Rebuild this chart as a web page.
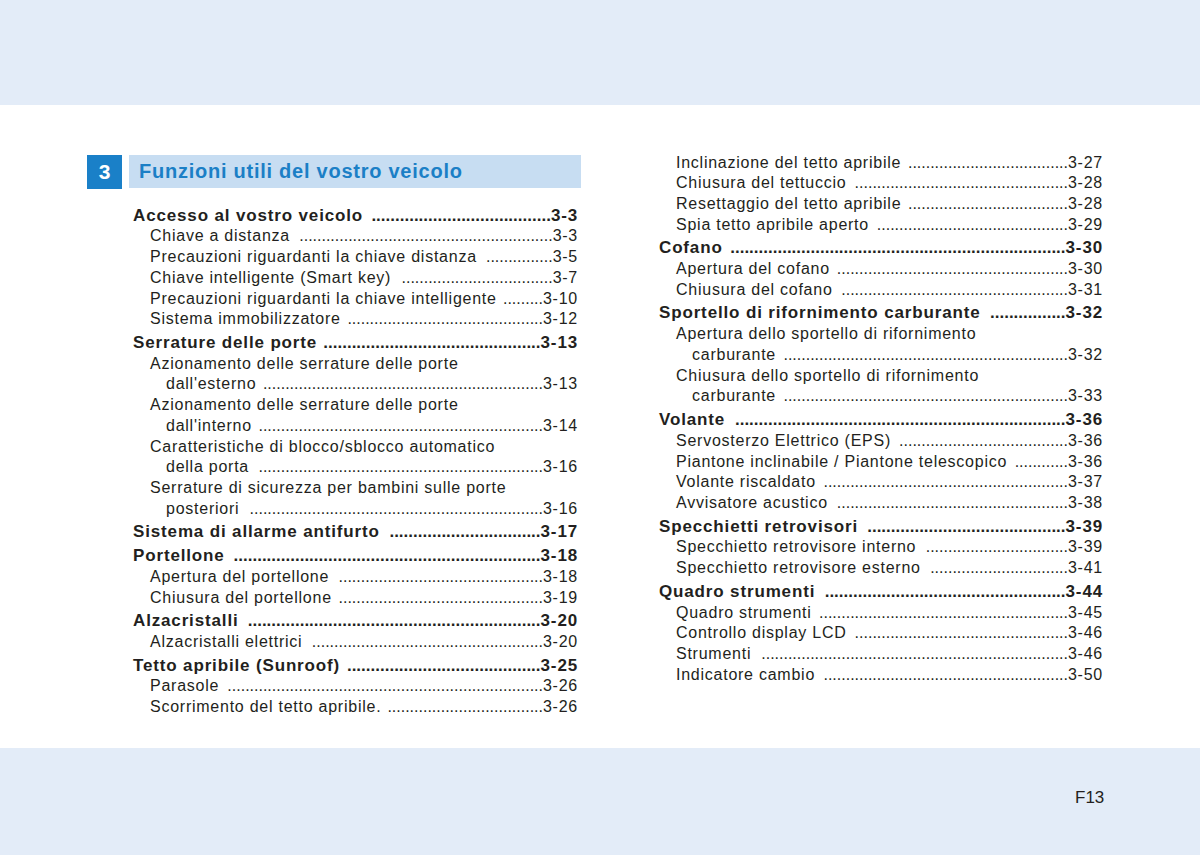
<!DOCTYPE html>
<html>
<head>
<meta charset="utf-8">
<script src="https://cdn.jsdelivr.net/npm/chart.js@4.4.1/dist/chart.umd.min.js"></script>
<style>
  html, body { margin: 0; padding: 0; }
  body {
    width: 1200px; height: 855px; position: relative; overflow: hidden;
    background: #ffffff;
    font-family: "Liberation Sans", Arial, Helvetica, sans-serif;
    color: #231f20;
  }
  .band { position: absolute; left: 0; width: 1200px; background: #e3ecf8; }
  .band.top { top: 0; height: 105px; }
  .band.bottom { top: 748px; height: 107px; }
  .chapNum {
    position: absolute; left: 87px; top: 155px; width: 35px; height: 34px;
    background: #1a80c8; color: #fff; font-weight: bold; font-size: 21px;
    line-height: 34px; text-align: center;
  }
  .chapTitle {
    position: absolute; left: 129px; top: 155px; width: 452px; height: 33px;
    background: #c7ddf2; color: #1b7fc6; font-weight: bold; font-size: 20px;
    letter-spacing: 0.75px; line-height: 33px; box-sizing: border-box; padding-left: 10px;
  }
  .col { position: absolute; }
  .row {
    position: absolute; left: 0; right: 0; display: flex;
    height: 21px; line-height: 21px; font-size: 16px; letter-spacing: 0.75px; white-space: nowrap;
  }
  .row.l0 { font-weight: bold; font-size: 17px; letter-spacing: 0.85px; }
  .row.l1 { padding-left: 17px; }
  .row.l2 { padding-left: 33px; }
  .row .lead { flex: 1; text-align: right; letter-spacing: 0; }
  .pageNo { position: absolute; left: 1075px; top: 788px; font-size: 17px; color: #231f20; }
</style>
</head>
<body>
<div class="band top"></div>
<div class="band bottom"></div>
<div class="chapNum" id="chapNum"></div>
<div class="chapTitle" id="chapTitle"></div>
<div class="col" id="leftCol" style="left:133px; top:215px; width:445px;"></div>
<div class="col" id="rightCol" style="left:659px; top:162px; width:444px;"></div>
<div class="pageNo" id="pageNo"></div>

<script>
// ===== CONTENUTO INDICE =====
const chapterNumber = '3';
const chapterTitle = 'Funzioni utili del vostro veicolo';
const pageLabel = 'F13';

// [livello, testo, pagina]  livello 0 = titolo, 1 = voce, 2 = continuazione
const leftEntries = [
    [0, 'Accesso al vostro veicolo', '3-3'],
    [1, 'Chiave a distanza', '3-3'],
    [1, 'Precauzioni riguardanti la chiave distanza', '3-5'],
    [1, 'Chiave intelligente (Smart key)', '3-7'],
    [1, 'Precauzioni riguardanti la chiave intelligente', '3-10'],
    [1, 'Sistema immobilizzatore', '3-12'],
    [0, 'Serrature delle porte', '3-13'],
    [1, 'Azionamento delle serrature delle porte', ''],
    [2, "dall'esterno", '3-13'],
    [1, 'Azionamento delle serrature delle porte', ''],
    [2, "dall'interno", '3-14'],
    [1, 'Caratteristiche di blocco/sblocco automatico', ''],
    [2, 'della porta', '3-16'],
    [1, 'Serrature di sicurezza per bambini sulle porte', ''],
    [2, 'posteriori', '3-16'],
    [0, 'Sistema di allarme antifurto', '3-17'],
    [0, 'Portellone', '3-18'],
    [1, 'Apertura del portellone', '3-18'],
    [1, 'Chiusura del portellone', '3-19'],
    [0, 'Alzacristalli', '3-20'],
    [1, 'Alzacristalli elettrici', '3-20'],
    [0, 'Tetto apribile (Sunroof)', '3-25'],
    [1, 'Parasole', '3-26'],
    [1, 'Scorrimento del tetto apribile.', '3-26']
];

const rightEntries = [
    [1, 'Inclinazione del tetto apribile', '3-27'],
    [1, 'Chiusura del tettuccio', '3-28'],
    [1, 'Resettaggio del tetto apribile', '3-28'],
    [1, 'Spia tetto apribile aperto', '3-29'],
    [0, 'Cofano', '3-30'],
    [1, 'Apertura del cofano', '3-30'],
    [1, 'Chiusura del cofano', '3-31'],
    [0, 'Sportello di rifornimento carburante', '3-32'],
    [1, 'Apertura dello sportello di rifornimento', ''],
    [2, 'carburante', '3-32'],
    [1, 'Chiusura dello sportello di rifornimento', ''],
    [2, 'carburante', '3-33'],
    [0, 'Volante', '3-36'],
    [1, 'Servosterzo Elettrico (EPS)', '3-36'],
    [1, 'Piantone inclinabile / Piantone telescopico', '3-36'],
    [1, 'Volante riscaldato', '3-37'],
    [1, 'Avvisatore acustico', '3-38'],
    [0, 'Specchietti retrovisori', '3-39'],
    [1, 'Specchietto retrovisore interno', '3-39'],
    [1, 'Specchietto retrovisore esterno', '3-41'],
    [0, 'Quadro strumenti', '3-44'],
    [1, 'Quadro strumenti', '3-45'],
    [1, 'Controllo display LCD', '3-46'],
    [1, 'Strumenti', '3-46'],
    [1, 'Indicatore cambio', '3-50']
];

const STEP = 20.75;      // interlinea voci
const STEP_HEAD = 23.6;  // interlinea prima di un titolo

function buildColumn(el, entries) {
    let y = 0;
    entries.forEach(function(e, i) {
        if (i > 0) y += (e[0] === 0 ? STEP_HEAD : STEP);
        const row = document.createElement('div');
        row.className = 'row l' + e[0];
        row.style.top = (y - 10.5) + 'px';
        const label = document.createElement('span');
        label.textContent = e[1];
        row.appendChild(label);
        el.appendChild(row);
        if (e[2]) {
            const lead = document.createElement('span');
            lead.className = 'lead';
            row.appendChild(lead);
            const pg = document.createElement('span');
            pg.textContent = e[2];
            row.appendChild(pg);
            // riempi con i puntini lo spazio libero
            const probe = document.createElement('span');
            probe.textContent = '..........';
            probe.style.letterSpacing = '0';
            row.appendChild(probe);
            const dotW = probe.getBoundingClientRect().width / 10;
            row.removeChild(probe);
            const free = row.getBoundingClientRect().width
                - parseFloat(getComputedStyle(row).paddingLeft)
                - label.getBoundingClientRect().width
                - pg.getBoundingClientRect().width - 6;
            lead.textContent = '.'.repeat(Math.max(0, Math.floor(free / dotW)));
        }
    });
}

document.getElementById('chapNum').textContent = chapterNumber;
document.getElementById('chapTitle').textContent = chapterTitle;
document.getElementById('pageNo').textContent = pageLabel;
buildColumn(document.getElementById('leftCol'), leftEntries);
buildColumn(document.getElementById('rightCol'), rightEntries);
</script>
</body>
</html>
